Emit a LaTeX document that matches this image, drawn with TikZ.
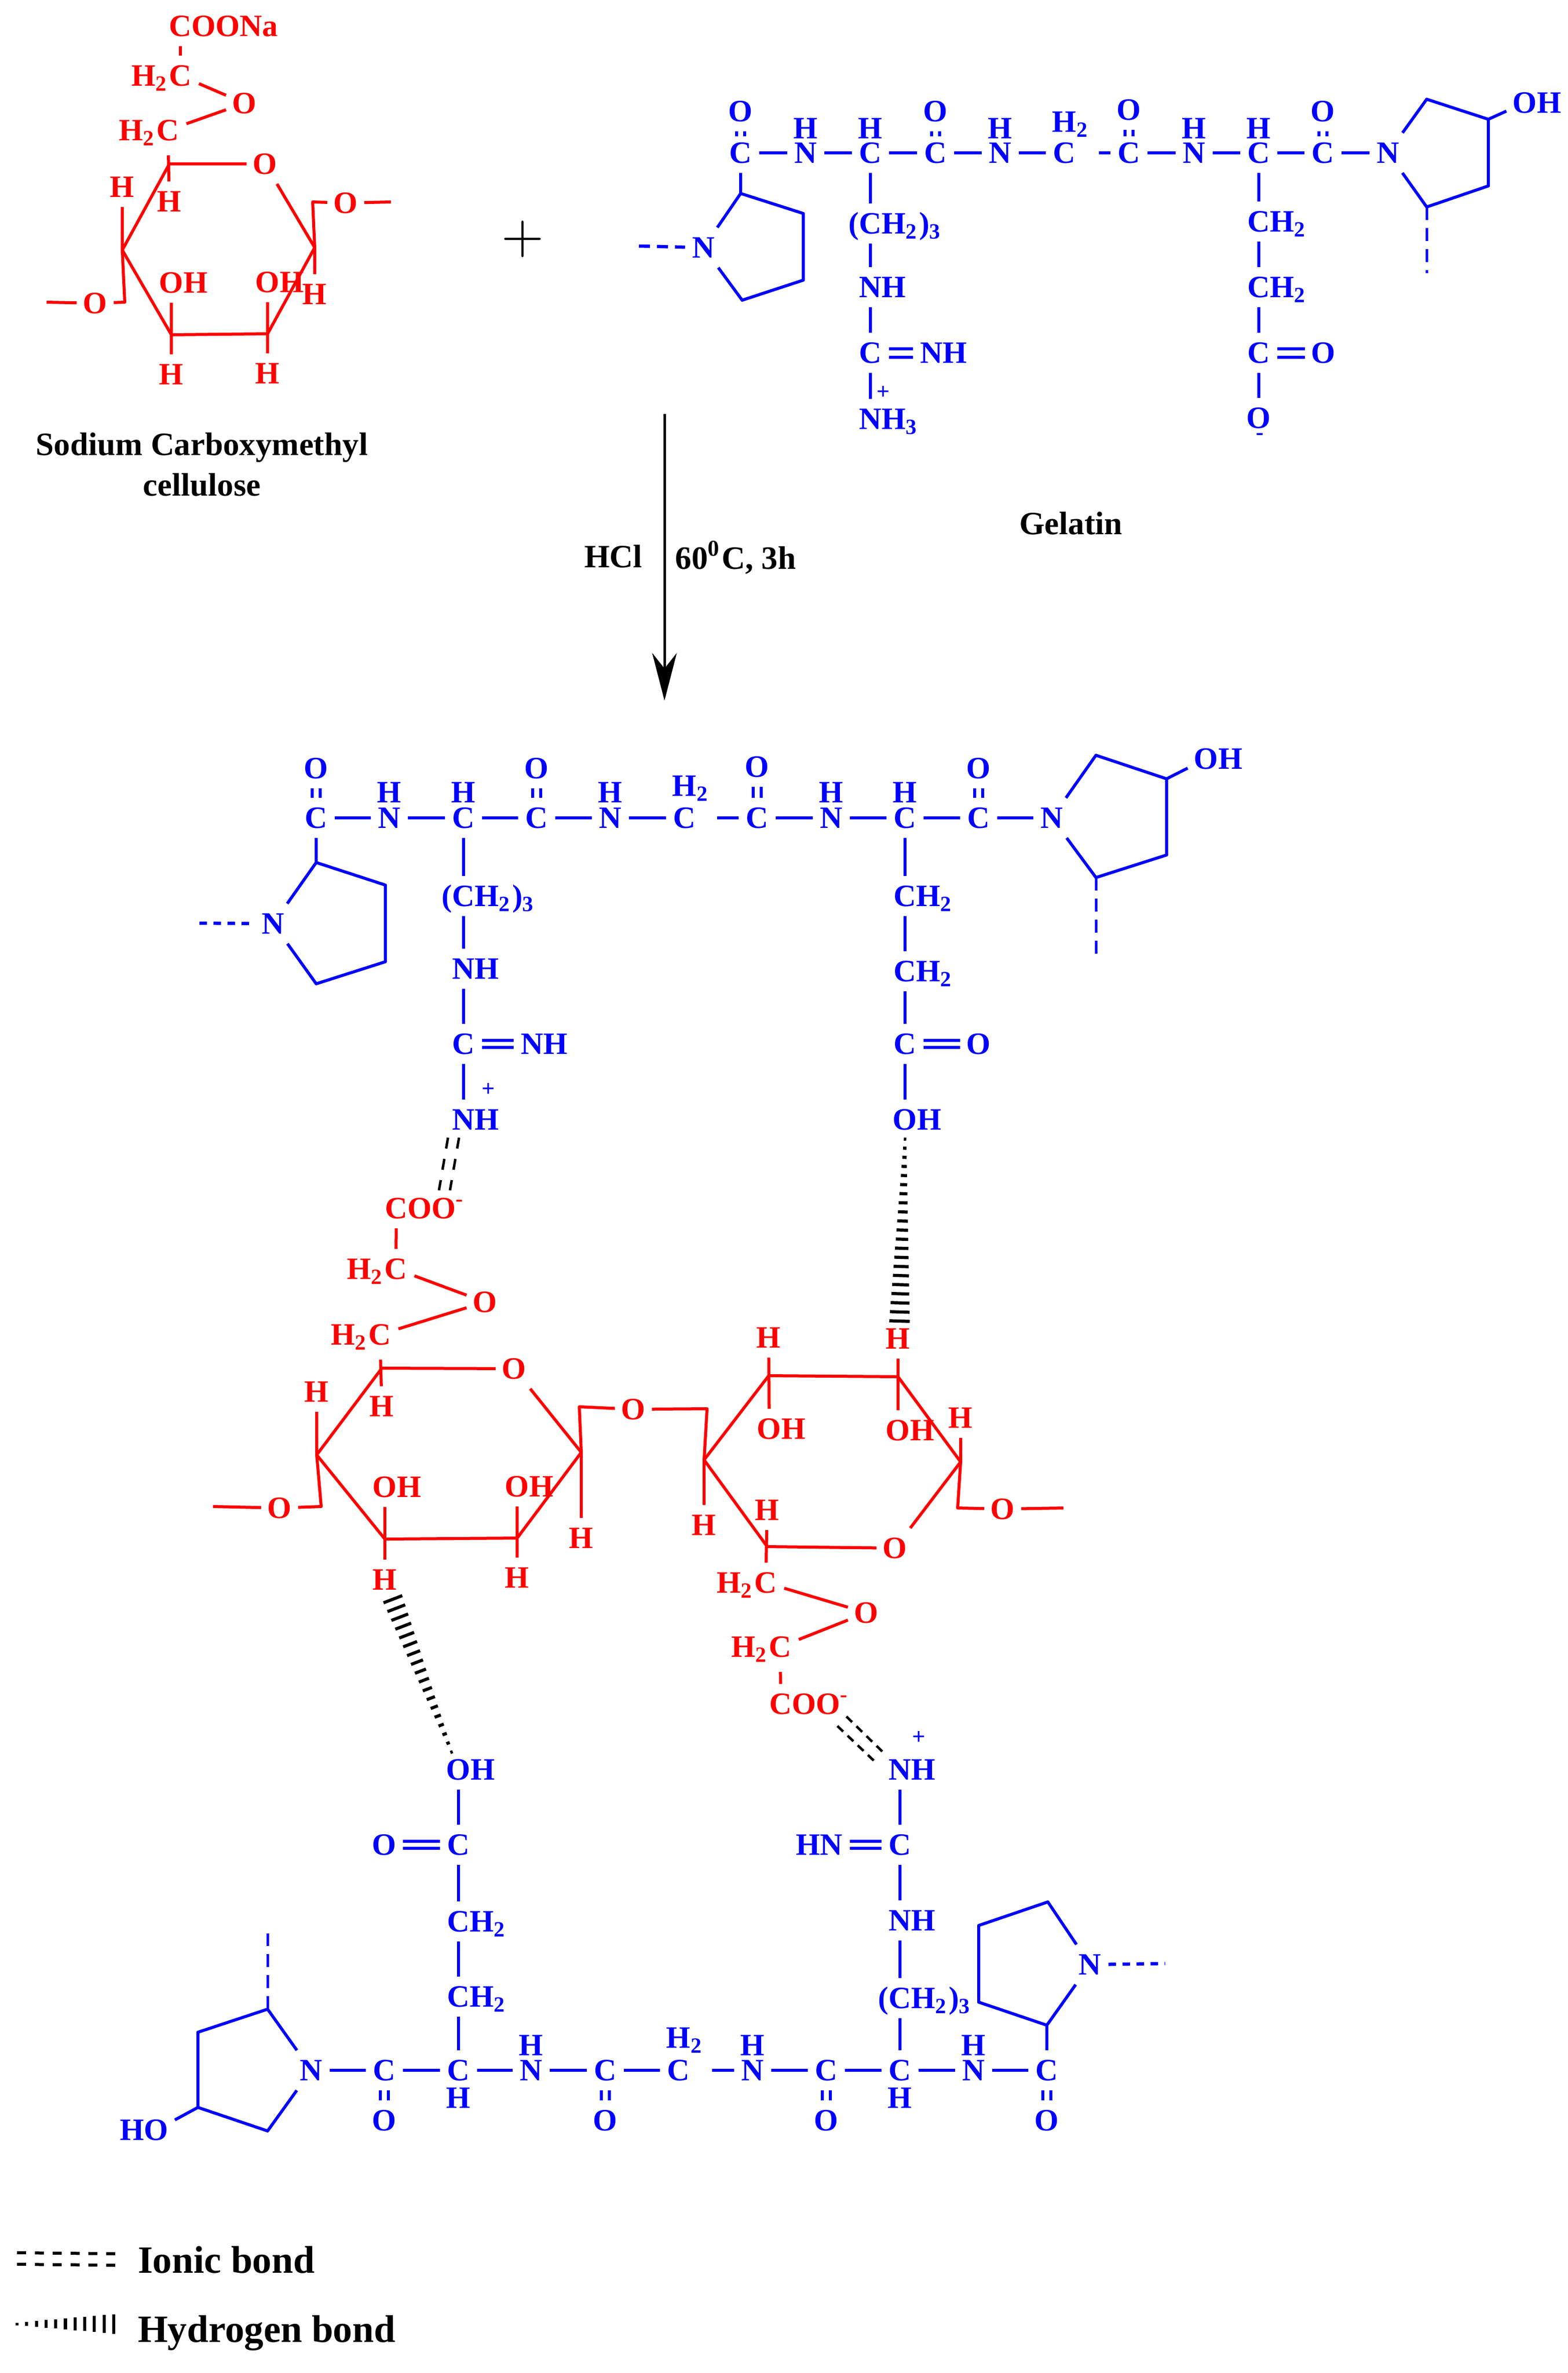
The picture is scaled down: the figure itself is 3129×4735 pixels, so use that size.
\documentclass[tikz,border=0pt]{standalone}
\usepackage{fontspec}
\setmainfont{Liberation Serif}
\usetikzlibrary{arrows.meta,calc}
\tikzset{
  atom/.style={inner sep=0pt,minimum width=7pt,minimum height=7.6pt,text height=4.1pt,text depth=0pt,font=\fontsize{6.2}{7}\selectfont\bfseries},
  ratom/.style={atom,text=red},
  batom/.style={atom,text=blue},
  tag/.style={inner sep=0pt,anchor=base,font=\fontsize{6.5}{7.5}\selectfont\bfseries},
  legendtag/.style={inner sep=0pt,anchor=base west,font=\fontsize{7.7}{8.5}\selectfont\bfseries},
  charge/.style={inner sep=0pt,text=blue,font=\fontsize{4.6}{5}\selectfont\bfseries},
  rbond/.style={draw=red,line width=.6pt,line join=round},
  bbond/.style={draw=blue,line width=.6pt,line join=round},
  bdash/.style={draw=blue,line width=.65pt,dash pattern=on 2.2pt off 1.4pt},
  bdashv/.style={draw=blue,line width=.5pt,dash pattern=on 2.6pt off 1.6pt},
  bupper/.style={draw=blue,line width=.55pt,double,double distance=1.05pt},
  bside/.style={draw=blue,line width=.6pt,double,double distance=.75pt},
  ionic/.style={draw=black,line width=.5pt,dash pattern=on 1.6pt off 1.2pt},
  ioniclong/.style={draw=black,line width=.5pt,dash pattern=on 2.2pt off 2.1pt},
  ionickey/.style={draw=black,line width=.6pt,dash pattern=on 1.8pt off 1.76pt},
  hbar/.style={draw=black,line width=.62pt}
}
\newcommand\hbond[4]{
  \coordinate (hfar) at ($(#1)!2!(#2)$);
  \foreach \i in {0,...,#3}{
    \pgfmathsetmacro\hfrac{\i/#3}
    \pgfmathsetmacro\hw{.25+(#4-.25)*\hfrac}
    \coordinate (hp) at ($(#1)!\hfrac!(#2)$);
    \draw[hbar] ($(hp)!\hw pt!90:(hfar)$) -- ($(hp)!\hw pt!-90:(hfar)$);
  }
}
\begin{document}
\begin{tikzpicture}[x=.1pt,y=-.1pt]
\useasboundingbox (0,0) rectangle (3129,4735);

\node[ratom] (cooNa) at (360,52) {C\rlap{OONa}};
\node[ratom] (cmA) at (360,151) {\llap{H\textsubscript{2}}C};
\node[ratom] (cmO) at (488,206) {O};
\node[ratom] (cmB) at (335,260) {\llap{H\textsubscript{2}}C};
\coordinate (cm1) at (338,327);
\node[ratom] (cmR) at (529,327) {O};
\coordinate (cm3) at (628,494);
\coordinate (cm4) at (534,666);
\coordinate (cm5) at (342,668);
\coordinate (cm6) at (244,499);
\node[ratom] (cmH1) at (338,402) {H};
\node[ratom] (cmH2) at (244,373) {H};
\node[ratom] (cmOL) at (190,605) {O};
\node[ratom] (cmOH1) at (342,564) {O\rlap{H}};
\node[ratom] (cmOH2) at (534,563) {O\rlap{H}};
\node[ratom] (cmH3) at (342,747) {H};
\node[ratom] (cmH4) at (534,745) {H};
\node[ratom] (cmH5) at (628,587) {H};
\node[ratom] (cmOR) at (690,405) {O};
\coordinate (cmE1) at (249,603);
\coordinate (cmE2) at (624,403);
\coordinate (cmF1) at (93,603);
\coordinate (cmF2) at (780,403);
\draw[rbond] (cooNa) -- (cmA);
\draw[rbond] (cmA) -- (cmO);
\draw[rbond] (cmO) -- (cmB);
\draw[rbond,shorten <=1pt] (cmB) -- (cmH1);
\draw[rbond] (cm1) -- (cmR);
\draw[rbond] (cmR) -- (cm3) -- (cm4) -- (cm5) -- (cm6) -- (cm1);
\draw[rbond] (cmH2) -- (cm6) -- (cmE1) -- (cmOL);
\draw[rbond] (cmOL) -- (cmF1);
\draw[rbond] (cmOH1) -- (cmH3);
\draw[rbond] (cmOH2) -- (cmH4);
\draw[rbond] (cmH5) -- (cm3) -- (cmE2) -- (cmOR);
\draw[rbond] (cmOR) -- (cmF2);
\node[tag] (cmName) at (403,908) {Sodium Carboxymethyl};
\node[tag] (cmName2) at (403,989) {cellulose};

\node[inner sep=0pt,font=\fontsize{11.4}{12}\selectfont] (plus) at (1043,477) {$+$};

\foreach \nm/\xx/\lab in {gc1/1478/C,gn1/1608/N,gc2/1737/C,gc3/1867/C,gn2/1996/N,gc4/2124/C,gc5/2253/C,gn3/2383/N,gc6/2512/C,gc7/2640/C,gn4/2770/N}
  \node[batom] (\nm) at (\xx,305) {\lab};
\foreach \nm/\xx/\yy in {go1/1478/222,go2/1867/222,go3/2253/219,go4/2640/222}
  \node[batom] (\nm) at (\xx,\yy) {O};
\foreach \nm/\xx in {gh1/1608,gh2/1737,gh3/1996,gh4/2383,gh5/2512}
  \node[batom] (\nm) at (\xx,256) {H};
\node[batom] (gh6) at (2124,243) {H\rlap{\textsubscript{2}}};
\foreach \a/\b in {gc1/gn1,gn1/gc2,gc2/gc3,gc3/gn2,gn2/gc4,gc5/gn3,gn3/gc6,gc6/gc7,gc7/gn4}
  \draw[bbond] (\a) -- (\b);
\draw[bbond,shorten <=3.2pt] (gc4) -- (gc5);
\foreach \a/\b in {gc1/go1,gc3/go2,gc5/go3,gc7/go4}
  \draw[bupper,shorten <=-.7pt] (\a) -- (\b);
\node[batom] (gn0) at (1404,494) {N};
\coordinate (gr1) at (1478,386);
\coordinate (gr2) at (1603,426);
\coordinate (gr3) at (1603,559);
\coordinate (gr4) at (1481,599);
\coordinate (gd1) at (1275,491);
\draw[bbond] (gc1) -- (gr1);
\draw[bbond] (gn0) -- (gr1) -- (gr2) -- (gr3) -- (gr4) -- (gn0);
\draw[bdash] (gd1) -- (gn0);
\node[batom] (gch1) at (1737,446) {\llap{(}C\rlap{H\textsubscript{2})\textsubscript{3}}};
\node[batom] (gnh1) at (1737,573) {N\rlap{H}};
\node[batom] (gc8) at (1737,704) {C};
\node[batom] (gnh2) at (1859,704) {N\rlap{H}};
\node[batom] (gnh3) at (1737,836) {N\rlap{H\textsubscript{3}}};
\node[charge] (gplus) at (1763,784) {+};
\draw[bbond] (gc2) -- (gch1);
\draw[bbond] (gch1) -- (gnh1);
\draw[bbond] (gnh1) -- (gc8);
\draw[bbond] (gc8) -- (gnh3);
\draw[bside,double distance=1.1pt] (gc8) -- (gnh2);
\node[batom] (gch2) at (2512,442) {C\rlap{H\textsubscript{2}}};
\node[batom] (gch3) at (2512,573) {C\rlap{H\textsubscript{2}}};
\node[batom] (gc9) at (2512,704) {C};
\node[batom] (go5) at (2641,704) {O};
\node[batom] (go6) at (2512,834) {O};
\node[charge] (gminus) at (2514,871) {-};
\draw[bbond] (gc6) -- (gch2);
\draw[bbond] (gch2) -- (gch3);
\draw[bbond] (gch3) -- (gc9);
\draw[bbond] (gc9) -- (go6);
\draw[bside,double distance=1.1pt] (gc9) -- (go5);
\coordinate (gr5) at (2847,198);
\coordinate (gr6) at (2970,238);
\coordinate (gr7) at (2970,371);
\coordinate (gr8) at (2847,413);
\coordinate (gd2) at (2847,545);
\node[batom] (goh) at (3043,205) {O\rlap{H}};
\draw[bbond] (gn4) -- (gr5) -- (gr6) -- (gr7) -- (gr8) -- (gn4);
\draw[bbond] (gr6) -- (goh);
\draw[bdashv] (gr8) -- (gd2);
\node[tag] (gelName) at (2137,1066) {Gelatin};

\coordinate (arrTop) at (1326,826);
\coordinate (arrEnd) at (1326,1398);
\draw[line width=.5pt,-{Stealth[length=9.5pt,width=4.9pt]}] (arrTop) -- (arrEnd);
\node[tag] (hcl) at (1224,1132) {HCl};
\node[tag] (temp) at (1468,1135) {60\textsuperscript{0}C, 3h};

\foreach \nm/\xx/\lab in {mc1/631/C,mn1/777/N,mc2/925/C,mc3/1071/C,mn2/1218/N,mc4/1366/C,mc5/1511/C,mn3/1659/N,mc6/1806/C,mc7/1953/C,mn4/2099/N}
  \node[batom] (\nm) at (\xx,1632) {\lab};
\foreach \nm/\xx/\yy in {mo1/631/1533,mo2/1071/1533,mo3/1511/1530,mo4/1953/1533}
  \node[batom] (\nm) at (\xx,\yy) {O};
\foreach \nm/\xx in {mh1/777,mh2/925,mh3/1218,mh4/1659,mh5/1806}
  \node[batom] (\nm) at (\xx,1581) {H};
\node[batom] (mh6) at (1366,1568) {H\rlap{\textsubscript{2}}};
\foreach \a/\b in {mc1/mn1,mn1/mc2,mc2/mc3,mc3/mn2,mn2/mc4,mc5/mn3,mn3/mc6,mc6/mc7,mc7/mn4}
  \draw[bbond] (\a) -- (\b);
\draw[bbond,shorten <=2.8pt] (mc4) -- (mc5);
\foreach \a/\b in {mc1/mo1,mc3/mo2,mc5/mo3,mc7/mo4}
  \draw[bupper] (\a) -- (\b);
\node[batom] (mn0) at (545,1843) {N};
\coordinate (mr1) at (631,1721);
\coordinate (mr2) at (769,1766);
\coordinate (mr3) at (769,1919);
\coordinate (mr4) at (631,1963);
\coordinate (md1) at (398,1842);
\draw[bbond] (mc1) -- (mr1);
\draw[bbond] (mn0) -- (mr1) -- (mr2) -- (mr3) -- (mr4) -- (mn0);
\draw[bdash,dash pattern=on 1.5pt off 1.3pt] (md1) -- (mn0);
\node[batom] (mch1) at (925,1788) {\llap{(}C\rlap{H\textsubscript{2})\textsubscript{3}}};
\node[batom] (mnh1) at (925,1933) {N\rlap{H}};
\node[batom] (mc8) at (925,2083) {C};
\node[batom] (mnh2) at (1062,2083) {N\rlap{H}};
\node[batom] (mnh3) at (925,2234) {N\rlap{H}};
\node[charge] (mplus) at (975,2174) {+};
\draw[bbond] (mc2) -- (mch1);
\draw[bbond] (mch1) -- (mnh1);
\draw[bbond] (mnh1) -- (mc8);
\draw[bbond] (mc8) -- (mnh3);
\draw[bside] (mc8) -- (mnh2);
\node[batom] (mch2) at (1806,1788) {C\rlap{H\textsubscript{2}}};
\node[batom] (mch3) at (1806,1938) {C\rlap{H\textsubscript{2}}};
\node[batom] (mc9) at (1806,2083) {C};
\node[batom] (mo5) at (1953,2083) {O};
\node[batom] (mo6) at (1806,2234) {O\rlap{H}};
\draw[bbond] (mc6) -- (mch2);
\draw[bbond] (mch2) -- (mch3);
\draw[bbond] (mch3) -- (mc9);
\draw[bbond] (mc9) -- (mo6);
\draw[bside] (mc9) -- (mo5);
\coordinate (mr5) at (2187,1507);
\coordinate (mr6) at (2328,1554);
\coordinate (mr7) at (2328,1706);
\coordinate (mr8) at (2187,1751);
\coordinate (md2) at (2187,1903);
\node[batom] (moh) at (2407,1514) {O\rlap{H}};
\draw[bbond] (mn4) -- (mr5) -- (mr6) -- (mr7) -- (mr8) -- (mn4);
\draw[bbond] (mr6) -- (moh);
\draw[bdashv] (mr8) -- (md2);

\node[ratom] (cooA) at (791,2411) {C\rlap{OO\textsuperscript{-}}};
\node[ratom] (raC1) at (790,2532) {\llap{H\textsubscript{2}}C};
\node[ratom] (raO) at (968,2598) {O};
\node[ratom] (raC2) at (758,2663) {\llap{H\textsubscript{2}}C};
\node[ratom] (raH1) at (762,2806) {H};
\coordinate (ra1) at (762,2730);
\node[ratom] (raR) at (1026,2731) {O};
\coordinate (ra3) at (1160,2898);
\coordinate (ra4) at (1032,3069);
\coordinate (ra5) at (768,3071);
\coordinate (ra6) at (632,2903);
\node[ratom] (raH2) at (632,2777) {H};
\node[ratom] (raOL) at (558,3009) {O};
\coordinate (raE1) at (641,3006);
\coordinate (raF1) at (425,3006);
\node[ratom] (raOH1) at (768,2967) {O\rlap{H}};
\node[ratom] (raOH2) at (1032,2966) {O\rlap{H}};
\node[ratom] (raH3) at (768,3152) {H};
\node[ratom] (raH4) at (1032,3148) {H};
\node[ratom] (raH5) at (1160,3069) {H};
\draw[rbond] (cooA) -- (raC1);
\draw[rbond] (raC1) -- (raO);
\draw[rbond] (raO) -- (raC2);
\draw[rbond,shorten <=1pt] (raC2) -- (raH1);
\draw[rbond] (ra1) -- (raR);
\draw[rbond] (raR) -- (ra3) -- (ra4) -- (ra5) -- (ra6) -- (ra1);
\draw[rbond] (raH2) -- (ra6) -- (raE1) -- (raOL);
\draw[rbond] (raOL) -- (raF1);
\draw[rbond] (raOH1) -- (raH3);
\draw[rbond] (raOH2) -- (raH4);
\draw[rbond] (ra3) -- (raH5);

\node[ratom] (linkO) at (1264,2812) {O};
\coordinate (linkA) at (1156,2807);
\coordinate (linkB) at (1411,2811);
\coordinate (rb1) at (1405,2913);
\coordinate (rb2) at (1534,2745);
\coordinate (rb3) at (1792,2747);
\coordinate (rb4) at (1917,2917);
\node[ratom] (rbR) at (1786,3089) {O};
\coordinate (rb6) at (1531,3086);
\draw[rbond] (ra3) -- (linkA) -- (linkO);
\draw[rbond] (linkO) -- (linkB) -- (rb1);
\draw[rbond] (rb1) -- (rb2) -- (rb3) -- (rb4) -- (rbR);
\draw[rbond] (rbR) -- (rb6) -- (rb1);
\node[ratom] (rbH1) at (1534,2669) {H};
\node[ratom] (rbH2) at (1792,2671) {H};
\node[ratom] (rbH3) at (1917,2829) {H};
\node[ratom] (rbH4) at (1405,3043) {H};
\node[ratom] (rbH5) at (1531,3013) {H};
\node[ratom] (rbOH1) at (1535,2851) {O\rlap{H}};
\node[ratom] (rbOH2) at (1792,2854) {O\rlap{H}};
\node[ratom] (rbOR) at (2001,3011) {O};
\coordinate (rbE1) at (1911,3009);
\coordinate (rbF1) at (2122,3009);
\node[ratom] (rbC1) at (1528,3158) {\llap{H\textsubscript{2}}C};
\node[ratom] (rbO) at (1729,3218) {O};
\node[ratom] (rbC2) at (1557,3286) {\llap{H\textsubscript{2}}C};
\node[ratom] (cooB) at (1558,3400) {C\rlap{OO\textsuperscript{-}}};
\draw[rbond] (rbH1) -- (rbOH1);
\draw[rbond] (rbH2) -- (rbOH2);
\draw[rbond] (rbH3) -- (rb4) -- (rbE1) -- (rbOR);
\draw[rbond] (rbOR) -- (rbF1);
\draw[rbond] (rbH4) -- (rb1);
\draw[rbond] (rbH5) -- (rbC1);
\draw[rbond] (rbC1) -- (rbO);
\draw[rbond] (rbO) -- (rbC2);
\draw[rbond,shorten <=1pt] (rbC2) -- (cooB);

\foreach \nm/\xx/\lab in {bn0/621/N,bc1/767/C,bc2/915/C,bn1/1060/N,bc3/1208/C,bc4/1354/C,bn2/1502/N,bc5/1649/C,bc6/1796/C,bn3/1943/N,bc7/2089/C}
  \node[batom] (\nm) at (\xx,4131) {\lab};
\foreach \nm/\xx in {bo1/767,bo2/1208,bo3/1649,bo4/2089}
  \node[batom] (\nm) at (\xx,4231) {O};
\foreach \nm/\xx/\yy in {bh1/1060/4081,bh2/1502/4081,bh3/1943/4081,bh4/915/4186,bh5/1796/4186}
  \node[batom] (\nm) at (\xx,\yy) {H};
\node[batom] (bh6) at (1354,4066) {H\rlap{\textsubscript{2}}};
\foreach \a/\b in {bn0/bc1,bc1/bc2,bc2/bn1,bn1/bc3,bc3/bc4,bn2/bc5,bc5/bc6,bc6/bn3,bn3/bc7}
  \draw[bbond] (\a) -- (\b);
\draw[bbond,shorten <=3pt] (bc4) -- (bn2);
\foreach \a/\b in {bc1/bo1,bc3/bo2,bc5/bo3,bc7/bo4}
  \draw[bupper] (\a) -- (\b);
\coordinate (br1) at (534,4009);
\coordinate (br2) at (395,4055);
\coordinate (br3) at (395,4205);
\coordinate (br4) at (534,4252);
\coordinate (bd1) at (534,3858);
\node[batom] (boh) at (312,4250) {\llap{H}O};
\draw[bbond] (bn0) -- (br1) -- (br2) -- (br3) -- (br4) -- (bn0);
\draw[bbond] (br3) -- (boh);
\draw[bdashv] (br1) -- (bd1);
\node[batom] (boh2) at (915,3531) {O\rlap{H}};
\node[batom] (bc8) at (915,3681) {C};
\node[batom] (bo5) at (767,3681) {O};
\node[batom] (bch1) at (915,3834) {C\rlap{H\textsubscript{2}}};
\node[batom] (bch2) at (915,3984) {C\rlap{H\textsubscript{2}}};
\draw[bbond] (boh2) -- (bc8);
\draw[bbond] (bc8) -- (bch1);
\draw[bbond] (bch1) -- (bch2);
\draw[bbond] (bch2) -- (bc2);
\draw[bside] (bc8) -- (bo5);
\node[batom] (bnh1) at (1796,3531) {N\rlap{H}};
\node[charge] (bplus) at (1834,3467) {+};
\node[batom] (bc9) at (1796,3681) {C};
\node[batom] (bnh2) at (1659,3681) {\llap{H}N};
\node[batom] (bnh3) at (1796,3832) {N\rlap{H}};
\node[batom] (bch3) at (1796,3987) {\llap{(}C\rlap{H\textsubscript{2})\textsubscript{3}}};
\draw[bbond] (bnh1) -- (bc9);
\draw[bbond] (bc9) -- (bnh3);
\draw[bbond] (bnh3) -- (bch3);
\draw[bbond] (bch3) -- (bc6);
\draw[bside] (bc9) -- (bnh2);
\node[batom] (bn4) at (2175,3920) {N};
\coordinate (br5) at (2089,4041);
\coordinate (br6) at (1953,3995);
\coordinate (br7) at (1953,3842);
\coordinate (br8) at (2091,3795);
\coordinate (bd2) at (2325,3918);
\draw[bbond] (bc7) -- (br5);
\draw[bbond] (bn4) -- (br5) -- (br6) -- (br7) -- (br8) -- (bn4);
\draw[bdash,dash pattern=on 1.5pt off 1.3pt] (bn4) -- (bd2);

\coordinate (ionA1) at (894,2270);
\coordinate (ionA2) at (876,2375);
\coordinate (ionA3) at (916,2270);
\coordinate (ionA4) at (898,2375);
\draw[ioniclong] (ionA1) -- (ionA2);
\draw[ioniclong] (ionA3) -- (ionA4);
\coordinate (ionB1) at (1689,3425);
\coordinate (ionB2) at (1768,3502);
\coordinate (ionB3) at (1671,3444);
\coordinate (ionB4) at (1750,3519);
\draw[ionic] (ionB1) -- (ionB2);
\draw[ionic] (ionB3) -- (ionB4);
\coordinate (hbA1) at (1806,2273);
\coordinate (hbA2) at (1795,2636);
\hbond{hbA1}{hbA2}{20}{2.05}
\coordinate (hbB1) at (901,3496);
\coordinate (hbB2) at (784,3191);
\hbond{hbB1}{hbB2}{17}{2}

\coordinate (keyA1) at (34,4495);
\coordinate (keyA2) at (232,4497);
\coordinate (keyB1) at (34,4518);
\coordinate (keyB2) at (232,4520);
\draw[ionickey] (keyA1) -- (keyA2);
\draw[ionickey] (keyB1) -- (keyB2);
\node[legendtag] (ionicName) at (273,4535) {Ionic bond};
\coordinate (keyC1) at (34,4637);
\coordinate (keyC2) at (227,4637);
\hbond{keyC1}{keyC2}{10}{1.95}
\node[legendtag] (hydroName) at (273,4673) {Hydrogen bond};
\end{tikzpicture}
\end{document}
